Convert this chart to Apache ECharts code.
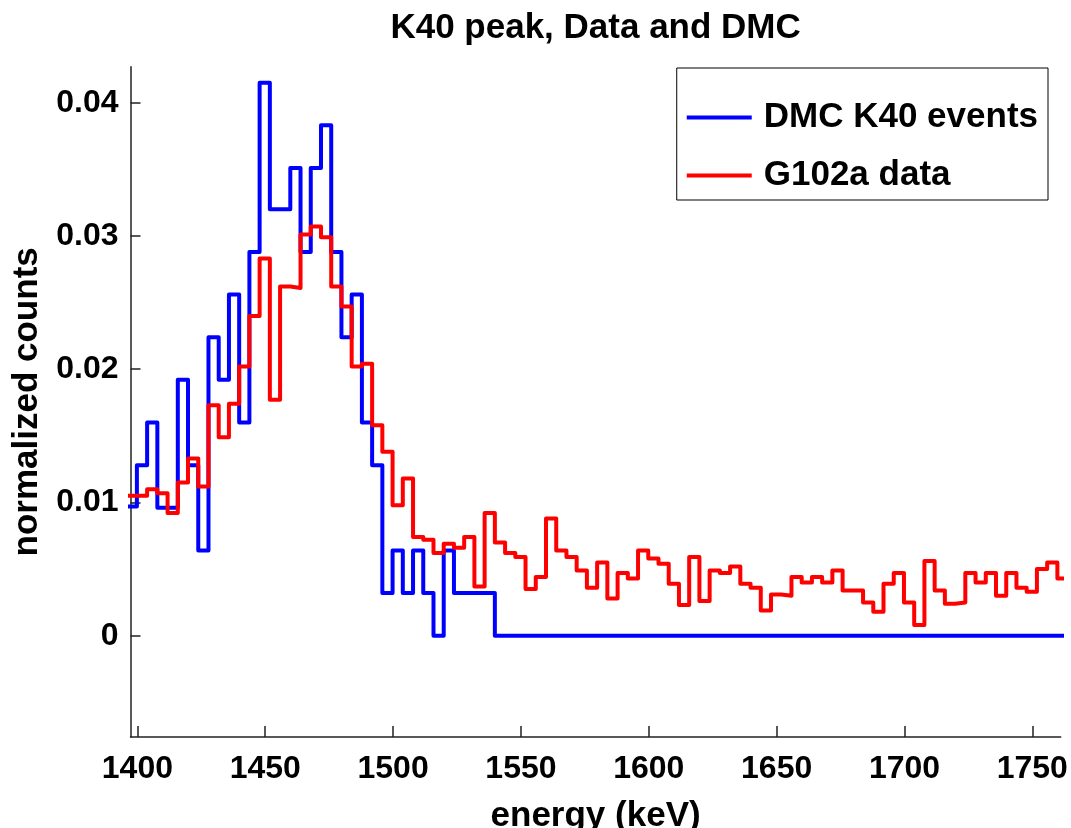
<!DOCTYPE html>
<html>
<head>
<meta charset="utf-8">
<script src="https://cdn.jsdelivr.net/npm/echarts@6/dist/echarts.min.js"></script>
<style>
  html, body { margin: 0; padding: 0; background: #fff; }
  #chart { width: 1071px; height: 828px; }
</style>
</head>
<body>
<div id="chart"></div>
<script>
// Histogram binning (keV): left edge of the first bin and bin width
const binStart = 1395.8;
const binWidth = 4;

// Axis ticks
const xTicks = [1400, 1450, 1500, 1550, 1600, 1650, 1700, 1750];
const yTicks = [0, 0.01, 0.02, 0.03, 0.04];

// Normalized counts per bin
const dmcK40 = [
  0.0097, 0.0128, 0.0160, 0.0096, 0.0096, 0.0192, 0.0128, 0.0064, 0.0224, 0.0192,
  0.0256, 0.0160, 0.0288, 0.0415, 0.0320, 0.0320, 0.0351, 0.0288, 0.0351, 0.0383,
  0.0288, 0.0224, 0.0256, 0.0160, 0.0128, 0.0032, 0.0064, 0.0032, 0.0064, 0.0032,
  0.0000, 0.0064, 0.0032, 0.0032, 0.0032, 0.0032, 0, 0, 0, 0,
  0, 0, 0, 0, 0, 0, 0, 0, 0, 0,
  0, 0, 0, 0, 0, 0, 0, 0, 0, 0,
  0, 0, 0, 0, 0, 0, 0, 0, 0, 0,
  0, 0, 0, 0, 0, 0, 0, 0, 0, 0,
  0, 0, 0, 0, 0, 0, 0, 0, 0, 0,
  0, 0
];

const g102a = [
  0.0105, 0.0105, 0.0110, 0.0107, 0.0092, 0.0115, 0.0133, 0.0112, 0.0173, 0.0149,
  0.0174, 0.0202, 0.0240, 0.0283, 0.0177, 0.0262, 0.0261, 0.0301, 0.0307, 0.0299,
  0.0262, 0.0247, 0.0202, 0.0204, 0.0158, 0.0138, 0.0098, 0.0118, 0.0074, 0.0072,
  0.0062, 0.0069, 0.0066, 0.0074, 0.0037, 0.0092, 0.0070, 0.0062, 0.0059, 0.0035,
  0.0044, 0.0088, 0.0064, 0.0059, 0.0049, 0.0036, 0.0055, 0.0028, 0.0047, 0.0043,
  0.0064, 0.0058, 0.0054, 0.0039, 0.0023, 0.0059, 0.0026, 0.0049, 0.0047, 0.0052,
  0.0039, 0.0036, 0.0019, 0.0031, 0.0030, 0.0044, 0.0040, 0.0044, 0.0040, 0.0049,
  0.0034, 0.0034, 0.0025, 0.0018, 0.0039, 0.0047, 0.0025, 0.0008, 0.0056, 0.0034,
  0.0024, 0.0025, 0.0047, 0.0040, 0.0047, 0.0030, 0.0047, 0.0036, 0.0033, 0.0050,
  0.0055, 0.0043
];

// Turn per-bin values into step points: one point at each left edge,
// plus a closing point at the right edge of the last bin.
function toSteps(values) {
  const pts = values.map((v, i) => [binStart + i * binWidth, v]);
  pts.push([binStart + values.length * binWidth, values[values.length - 1]]);
  return pts;
}

const FONT = '"Liberation Sans", Arial, Helvetica, sans-serif';
const chart = echarts.init(document.getElementById('chart'), null, { renderer: 'canvas' });

chart.setOption({
  backgroundColor: '#ffffff',
  animation: false,
  title: {
    text: 'K40 peak, Data and DMC',
    left: 595.6,
    textAlign: 'center',
    top: 11,
    padding: 0,
    textStyle: { fontFamily: FONT, fontWeight: 'bold', fontSize: 35, color: '#000' }
  },
  legend: {
    orient: 'vertical',
    right: 23,
    top: 68,
    backgroundColor: '#ffffff',
    borderColor: '#000000',
    borderWidth: 1,
    borderRadius: 0,
    padding: [32, 10, 7, 10],
    itemGap: 23,
    itemWidth: 65,
    itemHeight: 4,
    icon: 'rect',
    textStyle: { fontFamily: FONT, fontWeight: 'bold', fontSize: 35, color: '#000', padding: [0, 0, 0, 7] },
    data: ['DMC K40 events', 'G102a data']
  },
  grid: { left: 130.5, right: 10.3, top: 66.7, bottom: 91, outerBoundsMode: 'none', containLabel: false },
  xAxis: {
    type: 'value',
    min: 1397.3,
    max: 1761.1,
    name: 'energy (keV)',
    nameLocation: 'middle',
    nameGap: 62,
    nameTextStyle: { fontFamily: FONT, fontWeight: 'bold', fontSize: 35, color: '#000' },
    axisLine: { onZero: false, lineStyle: { color: '#222', width: 1.5 } },
    axisTick: { show: true, inside: true, length: 11, customValues: xTicks, lineStyle: { color: '#222', width: 1.5 } },
    axisLabel: {
      customValues: xTicks, margin: 16,
      fontFamily: FONT, fontWeight: 'bold', fontSize: 32, color: '#000',
      formatter: v => String(Math.round(v))
    },
    splitLine: { show: false }
  },
  yAxis: {
    type: 'value',
    min: -0.0076,
    max: 0.0427,
    name: 'normalized counts',
    nameLocation: 'middle',
    nameRotate: 90,
    nameGap: 80,
    nameTextStyle: { fontFamily: FONT, fontWeight: 'bold', fontSize: 35, color: '#000' },
    axisLine: { show: true, onZero: false, lineStyle: { color: '#222', width: 1.5 } },
    axisTick: { show: true, inside: true, length: 10, customValues: yTicks, lineStyle: { color: '#222', width: 1.5 } },
    axisLabel: {
      customValues: yTicks,
      margin: 12,
      fontFamily: FONT, fontWeight: 'bold', fontSize: 32, color: '#000',
      formatter: v => (Math.abs(v) < 1e-9 ? '0' : v.toFixed(2))
    },
    splitLine: { show: false }
  },
  series: [
    {
      name: 'DMC K40 events',
      type: 'line',
      step: 'end',
      symbol: 'none',
      color: '#0000ff',
      lineStyle: { color: '#0000ff', width: 4, join: 'round' },
      data: toSteps(dmcK40)
    },
    {
      name: 'G102a data',
      type: 'line',
      step: 'end',
      symbol: 'none',
      color: '#ff0000',
      lineStyle: { color: '#ff0000', width: 4, join: 'round' },
      data: toSteps(g102a)
    }
  ]
});
</script>
</body>
</html>
